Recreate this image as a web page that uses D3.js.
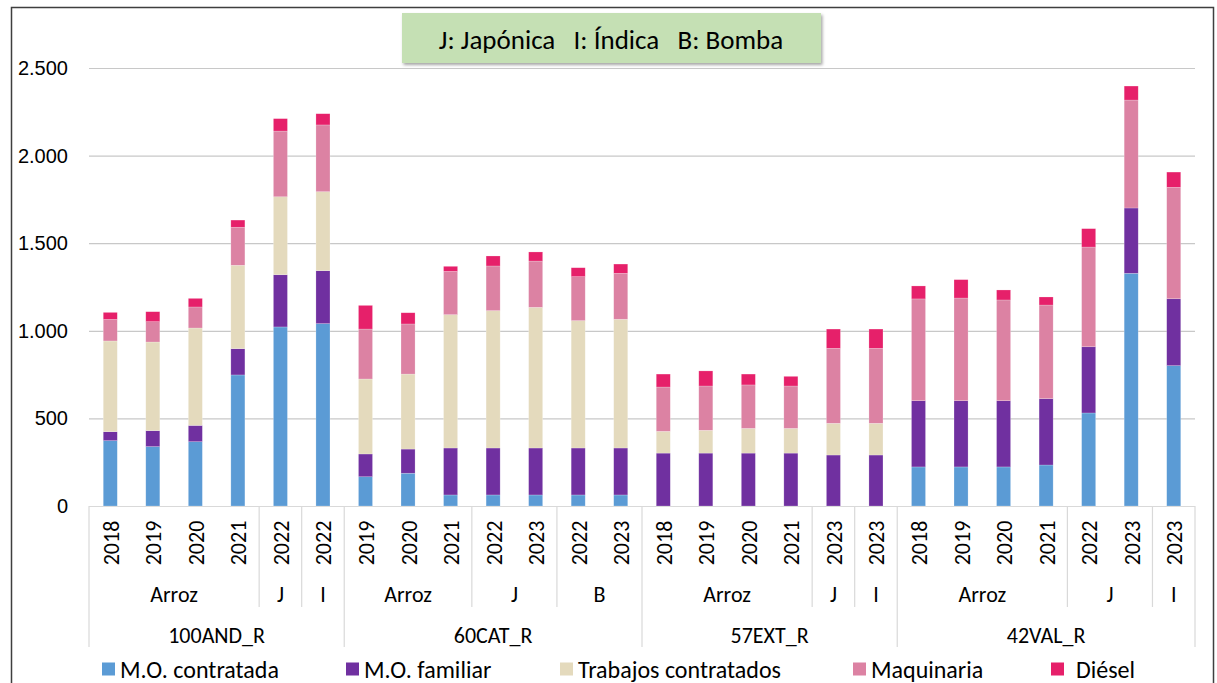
<!DOCTYPE html>
<html>
<head>
<meta charset="utf-8">
<script src="https://cdn.jsdelivr.net/npm/d3@7"></script>
<style>
  body { margin: 0; background: #fff; }
  svg { font-family: Carlito, Lato, "Open Sans", sans-serif; }
</style>
</head>
<body>
<div id="container"></div>
<script>
// chart values
const regions = ["100AND_R", "100AND_R", "100AND_R", "100AND_R", "100AND_R", "100AND_R",
  "60CAT_R", "60CAT_R", "60CAT_R", "60CAT_R", "60CAT_R", "60CAT_R", "60CAT_R",
  "57EXT_R", "57EXT_R", "57EXT_R", "57EXT_R", "57EXT_R", "57EXT_R",
  "42VAL_R", "42VAL_R", "42VAL_R", "42VAL_R", "42VAL_R", "42VAL_R", "42VAL_R"];
const types = ["Arroz", "Arroz", "Arroz", "Arroz", "J", "I",
  "Arroz", "Arroz", "Arroz", "J", "J", "B", "B",
  "Arroz", "Arroz", "Arroz", "Arroz", "J", "I",
  "Arroz", "Arroz", "Arroz", "Arroz", "J", "J", "I"];
const years = ["2018", "2019", "2020", "2021", "2022", "2022",
  "2019", "2020", "2021", "2022", "2023", "2022", "2023",
  "2018", "2019", "2020", "2021", "2023", "2023",
  "2018", "2019", "2020", "2021", "2022", "2023", "2023"];

const moContratada = [373, 339, 367, 748, 1022, 1041, 167, 187, 63, 63, 63, 63, 63, 0, 0, 0, 0, 0, 0, 223, 223, 223, 234, 531, 1328, 801];
const moFamiliar   = [51, 91, 93, 150, 298, 302, 130, 138, 268, 268, 268, 268, 268, 302, 302, 302, 302, 291, 291, 378, 378, 378, 379, 378, 373, 382];
const trabajos     = [518, 506, 556, 476, 445, 451, 428, 428, 761, 784, 803, 727, 735, 124, 130, 141, 141, 181, 181, 0, 0, 0, 0, 0, 0, 0];
const maquinaria   = [123, 116, 120, 217, 375, 381, 285, 286, 247, 255, 264, 251, 262, 253, 253, 248, 242, 428, 428, 581, 586, 575, 534, 569, 616, 636];
const diesel       = [40, 57, 49, 41, 71, 64, 135, 64, 29, 57, 52, 51, 53, 74, 86, 62, 55, 110, 110, 74, 105, 57, 46, 105, 80, 87];

const seriesNames = ["M.O. contratada", "M.O. familiar", "Trabajos contratados", "Maquinaria", "Diésel"];
const seriesColors = ["#5b9bd5", "#7030a0", "#e4dabd", "#dc82a3", "#e6206a"];
const yTicks = [0, 500, 1000, 1500, 2000, 2500];
const titleText = "J: Japónica   I: Índica   B: Bomba";

/* layout */
const width = 1217, height = 683;
const plotLeft = 89, plotRight = 1195, plotTop = 68, plotBottom = 506;
const yearY = 543, typeY = 594, regionY = 635, legendY = 668;
const typeLineEnd = 607, regionLineEnd = 647;
const legendX = [102, 346, 560, 853, 1051];

const fmt = d3.formatLocale({ decimal: ",", thousands: ".", grouping: [3], currency: ["", ""] }).format(",d");

const rows = years.map((y, i) => ({
  i: i,
  [seriesNames[0]]: moContratada[i],
  [seriesNames[1]]: moFamiliar[i],
  [seriesNames[2]]: trabajos[i],
  [seriesNames[3]]: maquinaria[i],
  [seriesNames[4]]: diesel[i]
}));

const stacked = d3.stack().keys(seriesNames)(rows);

const svg = d3.select("#container")
  .append("svg")
  .attr("width", width)
  .attr("height", height);

const defs = svg.append("defs");
defs.append("filter")
  .attr("id", "shadow")
  .attr("x", "-5%").attr("y", "-20%").attr("width", "115%").attr("height", "150%")
  .append("feDropShadow")
  .attr("dx", 1.5).attr("dy", 2).attr("stdDeviation", 1.5)
  .attr("flood-color", "#000").attr("flood-opacity", 0.35);

// chart frame
svg.append("rect")
  .attr("x", 11.5).attr("y", 7.5)
  .attr("width", 1202).attr("height", 720)
  .attr("fill", "none")
  .attr("stroke", "#3f3f3f")
  .attr("stroke-width", 1.5);

const xScale = d3.scaleBand()
  .domain(d3.range(years.length))
  .range([plotLeft, plotRight])
  .paddingInner(0.67)
  .paddingOuter(0.335);

const yScale = d3.scaleLinear()
  .domain([0, 2500])
  .range([plotBottom, plotTop]);

// gridlines + y labels
const yAxis = d3.axisLeft(yScale)
  .tickValues(yTicks)
  .tickFormat(fmt)
  .tickSize(-(plotRight - plotLeft))
  .tickPadding(21);

const yAxisGroup = svg.append("g")
  .attr("class", "y-axis")
  .attr("transform", `translate(${plotLeft},0)`)
  .call(yAxis);
yAxisGroup.select(".domain").remove();
yAxisGroup.selectAll(".tick line")
  .attr("stroke", d => d === 0 ? "#d9d9d9" : "#c8c8c8")
  .attr("stroke-width", 1.2);
yAxisGroup.selectAll(".tick text")
  .attr("fill", "#000")
  .style("font-size", "20px");

// bars
svg.append("g")
  .selectAll("g")
  .data(stacked)
  .join("g")
  .attr("fill", (d, i) => seriesColors[i])
  .selectAll("rect")
  .data(d => d)
  .join("rect")
  .attr("x", d => xScale(d.data.i))
  .attr("width", xScale.bandwidth())
  .attr("y", d => yScale(d[1]))
  .attr("height", d => yScale(d[0]) - yScale(d[1]))
  .attr("stroke", "#fff")
  .attr("stroke-opacity", 0.35)
  .attr("stroke-width", 0.6);

// multi-level category axis
const step = xScale.step();
const edge = i => xScale(0) + xScale.bandwidth() / 2 - step / 2 + i * step;

const boundaries = d3.range(years.length + 1).map(i => {
  let end = null;
  if (i === 0 || i === years.length || regions[i] !== regions[i - 1]) end = regionLineEnd;
  else if (types[i] !== types[i - 1]) end = typeLineEnd;
  return { i, end };
}).filter(d => d.end !== null);

svg.append("g")
  .selectAll("line")
  .data(boundaries)
  .join("line")
  .attr("x1", d => edge(d.i)).attr("x2", d => edge(d.i))
  .attr("y1", plotBottom).attr("y2", d => d.end)
  .attr("stroke", "#d9d9d9")
  .attr("stroke-width", 1.2);

svg.append("g")
  .selectAll("text")
  .data(years)
  .join("text")
  .attr("transform", (d, i) => `translate(${xScale(i) + xScale.bandwidth() / 2 + 1},${yearY}) rotate(-90)`)
  .attr("text-anchor", "middle")
  .attr("dominant-baseline", "central")
  .style("font-size", "22px")
  .text(d => d);

function runs(keyFn) {
  const out = [];
  years.forEach((y, i) => {
    const k = keyFn(i);
    if (out.length && out[out.length - 1].key === k) out[out.length - 1].end = i;
    else out.push({ key: k, start: i, end: i });
  });
  return out;
}

const typeRuns = runs(i => regions[i] + "|" + types[i]);
svg.append("g")
  .selectAll("text")
  .data(typeRuns)
  .join("text")
  .attr("x", d => (edge(d.start) + edge(d.end + 1)) / 2)
  .attr("y", typeY)
  .attr("text-anchor", "middle")
  .attr("dominant-baseline", "central")
  .style("font-size", "22px")
  .text(d => d.key.split("|")[1]);

const regionRuns = runs(i => regions[i]);
svg.append("g")
  .selectAll("text")
  .data(regionRuns)
  .join("text")
  .attr("x", d => (edge(d.start) + edge(d.end + 1)) / 2)
  .attr("y", regionY)
  .attr("text-anchor", "middle")
  .attr("dominant-baseline", "central")
  .style("font-size", "22px")
  .text(d => d.key);

// legend
const legend = svg.append("g")
  .selectAll("g")
  .data(seriesNames)
  .join("g")
  .attr("transform", (d, i) => `translate(${legendX[i]},${legendY})`);
legend.append("rect")
  .attr("x", 0).attr("y", -5.5)
  .attr("width", 13).attr("height", 13)
  .attr("fill", (d, i) => seriesColors[i]);
legend.append("text")
  .attr("x", (d, i) => i === 4 ? 25 : 18)
  .attr("y", 1)
  .attr("dominant-baseline", "central")
  .style("font-size", "24px")
  .text(d => d);

// note box
const note = svg.append("g");
note.append("rect")
  .attr("x", 402).attr("y", 13)
  .attr("width", 419).attr("height", 50)
  .attr("fill", "#c5e0b4")
  .attr("filter", "url(#shadow)");
note.append("text")
  .attr("x", 611).attr("y", 39)
  .attr("text-anchor", "middle")
  .attr("dominant-baseline", "central")
  .attr("xml:space", "preserve")
  .style("white-space", "pre")
  .style("font-size", "27px")
  .text(titleText);
</script>
</body>
</html>
